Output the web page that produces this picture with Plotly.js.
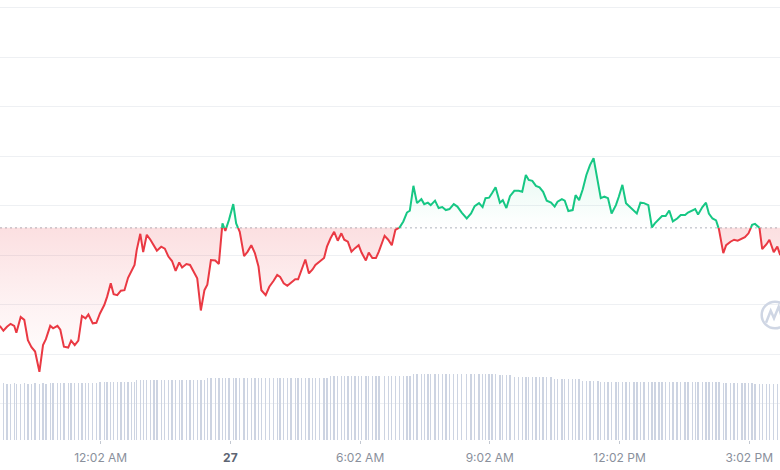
<!DOCTYPE html>
<html>
<head>
<meta charset="utf-8">
<script src="https://cdn.plot.ly/plotly-3.0.1.min.js"></script>
<style>
  html, body { margin: 0; padding: 0; background: #ffffff; }
  #chart { width: 780px; height: 470px; }
</style>
</head>
<body>
<div id="chart"></div>
<script>
// Time in minutes relative to the "12:02 AM" tick
const times = [
  -140,-135,-130,-125,-120,-117,-111,-106,-101,-96,-91,-85,-80,-76,-70,-66,-60,-56,-51,-45,-41,-36,-31,-26,-21,-17,-11,-6,-1,5,9,14,18,23,28,33,
  38,43,47,50,55,59,64,69,74,78,84,89,94,99,104,109,113,119,124,129,134,139,144,148,153,159,164,169,173,178,184,188,193,199,204,209,214,
  219,223,229,234,240,245,249,254,259,264,270,274,279,284,289,294,298,304,310,314,319,324,329,334,338,343,348,353,358,362,368,372,377,382,386,394,
  399,404,409,415,420,425,429,434,439,445,449,454,458,464,469,474,479,484,490,495,501,508,514,519,525,530,534,539,543,548,554,558,563,568,574,
  580,585,590,594,599,604,609,614,619,625,630,634,640,644,649,655,659,664,669,674,679,684,690,694,699,704,709,715,719,724,729,734,740,744,749,754,760,
  765,769,775,779,784,789,794,800,805,811,815,821,825,829,835,840,844,849,854,858,864,868,874,879,884,890,894,899,904,908,914,918,924,928,934,939,943
];
const prices = [
  61.57,61.47,61.55,61.61,61.57,61.43,61.75,61.69,61.28,61.14,61.05,60.64,61.18,61.30,61.57,61.52,61.57,61.49,61.15,61.13,61.27,61.18,61.27,61.77,61.72,61.80,61.62,61.63,61.82,61.99,62.16,62.43,62.21,62.19,62.28,62.29,
  62.54,62.70,62.80,63.10,63.43,63.06,63.41,63.31,63.17,63.09,63.17,63.13,62.97,62.88,62.68,62.85,62.75,62.82,62.80,62.66,62.53,61.88,62.29,62.40,62.90,62.89,62.82,63.64,63.49,63.71,64.03,63.64,63.47,62.98,63.07,63.20,63.04,
  62.77,62.29,62.19,62.36,62.48,62.60,62.56,62.43,62.38,62.44,62.51,62.51,62.70,62.91,62.63,62.71,62.80,62.87,62.94,63.17,63.34,63.47,63.29,63.44,63.31,63.27,63.07,63.14,63.20,63.05,62.89,63.05,62.94,62.94,63.07,63.39,
  63.31,63.20,63.51,63.56,63.68,63.86,63.90,64.40,64.05,64.13,64.03,64.06,64.01,64.10,63.95,63.97,63.91,63.93,64.03,63.98,63.86,63.74,63.84,63.99,64.05,63.97,64.15,64.16,64.25,64.37,64.06,64.11,63.95,64.19,64.30,
  64.30,64.28,64.62,64.52,64.50,64.40,64.37,64.28,64.10,64.06,63.98,64.08,64.13,64.10,63.89,63.91,64.21,64.11,64.33,64.62,64.82,64.96,64.42,64.15,64.18,64.15,63.84,64.01,64.18,64.42,64.05,63.98,63.88,63.84,64.06,64.05,64.01,
  63.56,63.64,63.72,63.79,63.79,63.90,63.68,63.74,63.81,63.81,63.86,63.90,63.93,63.82,63.97,64.06,63.84,63.74,63.70,63.52,63.04,63.20,63.27,63.31,63.29,63.34,63.36,63.44,63.61,63.63,63.57,63.12,63.22,63.31,63.06,63.17,63.00
];
const volumes = [
  5.65,5.66,5.65,5.65,5.66,5.65,5.65,5.66,5.65,5.65,5.66,5.65,5.66,5.65,5.66,5.66,
  5.72,5.73,5.73,5.72,5.73,5.73,5.74,5.73,5.73,5.74,5.74,5.74,
  5.79,5.80,5.80,5.80,5.80,5.80,5.81,5.80,
  5.81,5.81,5.82,
  5.99,6.00,6.00,6.00,6.01,6.00,6.00,6.01,6.01,6.00,6.01,6.01,6.02,6.01,6.01,6.02,6.02,6.01,6.02,6.02,
  6.16,6.16,6.17,6.17,6.17,6.17,6.17,6.18,6.17,6.17,6.18,6.18,6.17,6.18,
  6.17,6.18,6.18,6.17,6.18,6.18,6.18,6.17,6.18,6.18,6.18,6.19,6.18,6.18,6.19,6.18,6.19,6.19,6.19,6.19,
  6.39,6.39,6.40,6.40,6.40,6.40,6.40,6.40,6.41,6.40,6.40,6.41,6.40,6.40,6.41,6.41,
  6.40,6.40,6.41,6.40,6.41,6.41,6.41,
  6.56,6.57,6.57,6.57,6.57,6.58,6.57,6.57,6.57,6.57,6.58,6.57,6.57,6.57,6.57,6.58,6.57,6.57,6.57,6.58,6.57,6.58,6.58,
  6.53,6.52,6.52,6.51,
  6.34,
  6.33,6.33,6.33,6.32,6.33,6.33,6.32,6.32,6.33,6.32,
  6.08,6.07,6.07,6.07,6.06,6.07,6.06,6.06,
  5.88,5.87,5.87,5.86,5.86,
  5.80,5.80,5.80,5.81,5.80,5.80,5.80,5.80,5.81,5.80,5.80,5.80,5.81,5.80,
  5.80,5.80,5.79,5.80,5.80,5.79,5.80,5.80,5.79,5.80,5.80,5.79,5.80,5.80,5.79,5.80,5.79,5.80,5.79,5.79,
  5.67,5.67,5.67,5.66,5.67,5.67,5.66,5.67,5.67,
  5.60,5.60,5.61,5.60,5.60,5.60,5.61,5.60
];
const tickMinutes = [0, 180, 360, 540, 720, 900];
const tickLabels = ["12:02 AM", "27", "6:02 AM", "9:02 AM", "12:02 PM", "3:02 PM"];
const dayLabels = ["27"];
const openPrice = 63.55;

const RED = "#ea3943", GREEN = "#16c784";

// insert baseline crossing points so colours switch exactly at the open price
const X = [], Y = [];
for (let i = 0; i < times.length; i++) {
  if (i > 0) {
    const y0 = prices[i - 1], y1 = prices[i];
    if ((y0 - openPrice) * (y1 - openPrice) < 0) {
      const x0 = times[i - 1], x1 = times[i];
      X.push(x0 + (openPrice - y0) * (x1 - x0) / (y1 - y0));
      Y.push(openPrice);
    }
  }
  X.push(times[i]); Y.push(prices[i]);
}
const base = Y.map(() => openPrice);
const upFill = Y.map(y => Math.max(y, openPrice));
const loFill = Y.map(y => Math.min(y, openPrice));
const upLine = Y.map(y => (y >= openPrice ? y : null));
const loLine = Y.map(y => (y <= openPrice ? y : null));
const pMin = Math.min(...prices), pMax = Math.max(...prices);

const traces = [
  { x: X, y: base, type: "scatter", mode: "lines", line: { width: 0, color: "rgba(0,0,0,0)" }, hoverinfo: "skip", showlegend: false },
  { x: X, y: upFill, type: "scatter", mode: "lines", line: { width: 0, color: "rgba(0,0,0,0)" }, fill: "tonexty",
    fillgradient: { type: "vertical", start: openPrice, stop: pMax,
      colorscale: [[0, "rgba(22,199,132,0.0)"], [1, "rgba(22,199,132,0.12)"]] },
    hoverinfo: "skip", showlegend: false },
  { x: X, y: base, type: "scatter", mode: "lines", line: { width: 0, color: "rgba(0,0,0,0)" }, hoverinfo: "skip", showlegend: false },
  { x: X, y: loFill, type: "scatter", mode: "lines", line: { width: 0, color: "rgba(0,0,0,0)" }, fill: "tonexty",
    fillgradient: { type: "vertical", start: pMin, stop: openPrice,
      colorscale: [[0, "rgba(234,57,67,0.0)"], [0.5, "rgba(234,57,67,0.07)"], [1, "rgba(234,57,67,0.16)"]] },
    hoverinfo: "skip", showlegend: false },
  { x: X, y: loLine, type: "scatter", mode: "lines", line: { width: 2, color: RED }, connectgaps: false, showlegend: false },
  { x: X, y: upLine, type: "scatter", mode: "lines", line: { width: 2, color: GREEN }, connectgaps: false, showlegend: false },
  { x: times, y: volumes, type: "bar", yaxis: "y2", width: 1.9, marker: { color: "#cdd4e2", line: { width: 0 } }, showlegend: false }
];

const tickText = tickLabels.map(t => dayLabels.includes(t)
  ? '<span style="color:#5e6573"><b>' + t + '</b></span>' : t);

const layout = {
  width: 780, height: 470,
  margin: { l: 0, r: 0, t: 0, b: 30, pad: 0 },
  paper_bgcolor: "#ffffff", plot_bgcolor: "#ffffff",
  showlegend: false,
  bargap: 0,
  xaxis: {
    type: "linear", range: [-139.7, 942.7],
    tickmode: "array", tickvals: tickMinutes, ticktext: tickText,
    ticks: "outside", ticklen: 3, tickwidth: 1, tickcolor: "#c3c8d1",
    ticklabelstandoff: 4,
    showgrid: false, zeroline: false, showline: false,
    tickfont: { family: "Inter, 'Noto Sans', sans-serif", size: 12, color: "#8a909c" }
  },
  yaxis: {
    range: [59.262, 68.156], tickmode: "linear", tick0: 60, dtick: 1,
    showticklabels: false, showgrid: true, gridcolor: "#eef0f3", gridwidth: 1,
    zeroline: false, showline: false, ticks: ""
  },
  yaxis2: {
    overlaying: "y", range: [0, 44], showgrid: false, showticklabels: false,
    zeroline: false, showline: false, ticks: ""
  },
  shapes: [
    { type: "line", xref: "paper", x0: 0, x1: 1, yref: "y", y0: openPrice, y1: openPrice,
      line: { color: "#aeb3bc", width: 1, dash: "2px,3px" }, layer: "below" },
    { type: "circle", xref: "paper", yref: "paper", x0: 0.9765, x1: 1.0106, y0: 0.2539, y1: 0.3143,
      line: { color: "#cfd6e4", width: 2.5 }, layer: "above" },
    { type: "path", xref: "paper", yref: "paper",
      path: "M 0.9821 0.2666 L 0.9881 0.2939 L 0.9923 0.2766 L 0.9983 0.3030 L 1.0026 0.2773",
      line: { color: "#cfd6e4", width: 2.5 }, layer: "above" }
  ]
};

Plotly.newPlot("chart", traces, layout, { staticPlot: true, displayModeBar: false });
</script>
</body>
</html>
